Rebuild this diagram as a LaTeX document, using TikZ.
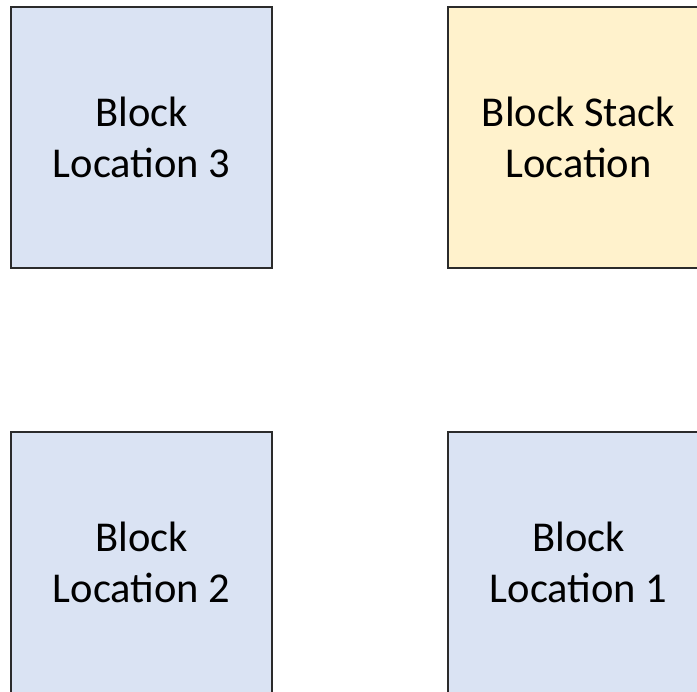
\documentclass[tikz,border=0pt]{standalone}
\usepackage{fontspec}
\setmainfont{Carlito}
\usepackage{xcolor}
\usepackage{tikz}
\definecolor{locfill}{HTML}{DAE3F3}
\definecolor{stackfill}{HTML}{FFF2CC}
\definecolor{boxline}{HTML}{2B2B2B}
\tikzstyle{loc}=[draw=boxline,line width=2.2pt,minimum width=261pt,minimum height=261pt,align=center,inner sep=0pt,font=\fontsize{42.5}{51}\selectfont]
\tikzstyle{blockloc}=[loc,fill=locfill]
\tikzstyle{stackloc}=[loc,fill=stackfill]

\begin{document}
\begin{tikzpicture}[x=1pt,y=-1pt]
	\useasboundingbox (0,0) rectangle (697,692);
	\clip (0,0) rectangle (697,692);
	\node[blockloc] (loc3)  at (141.5,137.5) {Block\\Location 3};
	\node[stackloc] (stack) at (578.5,137.5) {Block Stack\\Location};
	\node[blockloc] (loc2)  at (141.5,562.5) {Block\\Location 2};
	\node[blockloc] (loc1)  at (578.5,562.5) {Block\\Location 1};
\end{tikzpicture}
\end{document}
